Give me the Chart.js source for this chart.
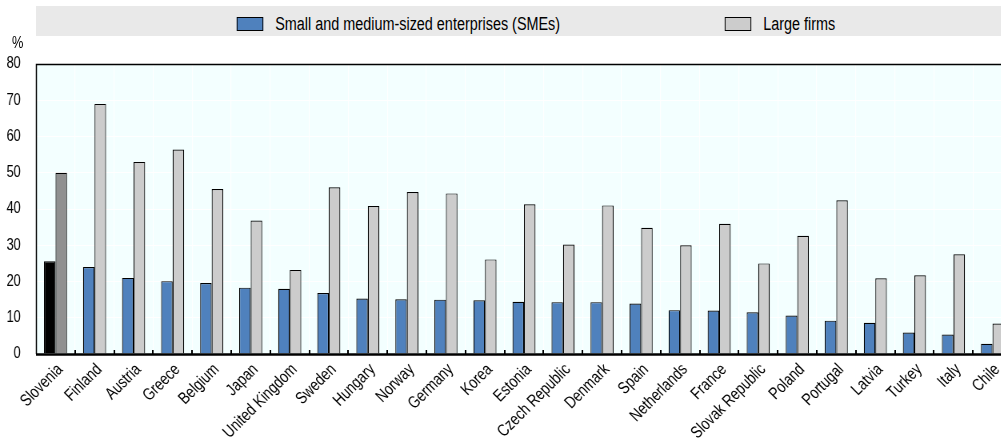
<!DOCTYPE html>
<html>
<head>
<meta charset="utf-8">
<script src="https://cdn.jsdelivr.net/npm/chart.js@4"></script>
<style>
  body { margin: 0; background: #fff; overflow: hidden; font-family: "Liberation Sans", Arial, sans-serif; }
  /* the source chart is horizontally condensed: draw at natural width, squeeze by 0.8 */
  #wrap { position: relative; width: 1265px; height: 444px; transform: scaleX(0.8); transform-origin: 0 0; }
  #legend { position: absolute; left: 45px; top: 6px; width: 1206px; height: 30px; background: #e9e9e9; }
  .box { position: absolute; top: 11px; width: 31px; height: 12px; border: 1px solid #000; }
  .lbl { position: absolute; top: 8px; font-size: 18px; line-height: 20px; color: #000; white-space: nowrap; }
  #unit { position: absolute; left: 15px; top: 35px; font-size: 16px; line-height: 16px; color: #000; }
  canvas { display: block; }
</style>
</head>
<body>
<div id="wrap">
  <canvas id="chart" width="1265" height="444"></canvas>
  <div id="legend">
    <span class="box" style="left:251px; background:#4f81bd"></span>
    <span class="lbl" style="left:299px">Small and medium-sized enterprises (SMEs)</span>
    <span class="box" style="left:861px; background:#cccccc"></span>
    <span class="lbl" style="left:909px">Large firms</span>
  </div>
  <div id="unit">%</div>
</div>
<script>
// Share of firms, by size (%)
const countries = ['Slovenia', 'Finland', 'Austria', 'Greece', 'Belgium', 'Japan', 'United Kingdom', 'Sweden',
  'Hungary', 'Norway', 'Germany', 'Korea', 'Estonia', 'Czech Republic', 'Denmark', 'Spain',
  'Netherlands', 'France', 'Slovak Republic', 'Poland', 'Portugal', 'Latvia', 'Turkey', 'Italy', 'Chile'];
const smes = [25.6, 24.0, 21.0, 20.1, 19.6, 18.3, 18.0, 16.8, 15.3, 15.1, 15.0, 14.8, 14.4, 14.3, 14.3, 13.9,
  12.1, 12.0, 11.5, 10.6, 9.2, 8.6, 5.9, 5.4, 2.8];
const largeFirms = [50.0, 69.0, 53.0, 56.4, 45.5, 36.8, 23.2, 46.0, 40.8, 44.7, 44.3, 26.1, 41.3, 30.2, 41.0, 34.8,
  30.0, 35.9, 25.0, 32.6, 42.4, 20.9, 21.7, 27.5, 8.4];
const yTicks = [0, 10, 20, 30, 40, 50, 60, 70, 80];

const highlight = 'Slovenia';
const smeColors = countries.map(c => c === highlight ? '#000000' : '#4f81bd');
const largeColors = countries.map(c => c === highlight ? '#909090' : '#cccccc');
const squeeze = 0.8; // same as the css scaleX on #wrap

// plot background + frame + small inner ticks + category labels
const framePlugin = {
  id: 'frame',
  beforeDraw(chart) {
    const { ctx, chartArea: a } = chart;
    ctx.save();
    ctx.fillStyle = '#f3ffff';
    ctx.fillRect(a.left, a.top, a.right - a.left, a.bottom - a.top);
    ctx.restore();
  },
  afterDatasetsDraw(chart) {
    const { ctx, chartArea: a, scales } = chart;
    const x = scales.x;
    ctx.save();
    ctx.strokeStyle = '#000';
    ctx.lineWidth = 1.5;
    ctx.beginPath();
    ctx.moveTo(a.left + 0.5, a.bottom);
    ctx.lineTo(a.left + 0.5, a.top + 0.5);
    ctx.lineTo(a.right, a.top + 0.5);
    ctx.stroke();
    ctx.lineWidth = 2.5;
    ctx.beginPath();
    ctx.moveTo(a.left, a.bottom + 0.5);
    ctx.lineTo(a.right, a.bottom + 0.5);
    ctx.stroke();
    ctx.lineWidth = 2;
    for (let i = 1; i < countries.length; i++) {
      const px = Math.round((x.getPixelForTick(i - 1) + x.getPixelForTick(i)) / 2);
      ctx.beginPath();
      ctx.moveTo(px, a.bottom);
      ctx.lineTo(px, a.bottom - 4);
      ctx.stroke();
    }

    // x labels: upright glyphs at 45deg once the page squeeze is applied
    ctx.font = '17px "Liberation Sans"';
    ctx.fillStyle = '#000';
    ctx.textAlign = 'right';
    ctx.textBaseline = 'middle';
    countries.forEach((name, i) => {
      ctx.save();
      ctx.translate(x.getPixelForTick(i) + 6, a.bottom + 13);
      ctx.scale(1 / squeeze, 1);
      ctx.rotate(-Math.PI / 4);
      ctx.scale(squeeze, 1);
      ctx.fillText(name, 0, 0);
      ctx.restore();
    });
    ctx.restore();
  }
};

new Chart(document.getElementById('chart'), {
  type: 'bar',
  data: {
    labels: countries,
    datasets: [{
      label: 'Small and medium-sized enterprises (SMEs)',
      data: smes,
      backgroundColor: smeColors,
      borderColor: '#000',
      borderWidth: 1.2,
      categoryPercentage: 0.59,
      barPercentage: 1
    }, {
      label: 'Large firms',
      data: largeFirms,
      backgroundColor: largeColors,
      borderColor: '#000',
      borderWidth: 1.2,
      categoryPercentage: 0.59,
      barPercentage: 1
    }]
  },
  options: {
    responsive: false,
    animation: false,
    layout: { padding: { top: 64, right: 0, left: 0, bottom: 0 } },
    plugins: {
      legend: { display: false },
      tooltip: { enabled: false }
    },
    scales: {
      x: {
        grid: { color: '#ffffff', lineWidth: 1.2, offset: true, drawTicks: false },
        border: { display: false },
        ticks: { display: false },
        afterFit(scale) { scale.height = 90; }
      },
      y: {
        min: 0,
        max: 80,
        grid: { color: '#ffffff', lineWidth: 1, drawTicks: false },
        border: { display: false },
        afterBuildTicks(scale) { scale.ticks = yTicks.map(v => ({ value: v })); },
        ticks: {
          padding: 19,
          color: '#000',
          font: { family: 'Liberation Sans', size: 16 }
        },
        afterFit(scale) { scale.width = 45; }
      }
    }
  },
  plugins: [framePlugin]
});
</script>
</body>
</html>
